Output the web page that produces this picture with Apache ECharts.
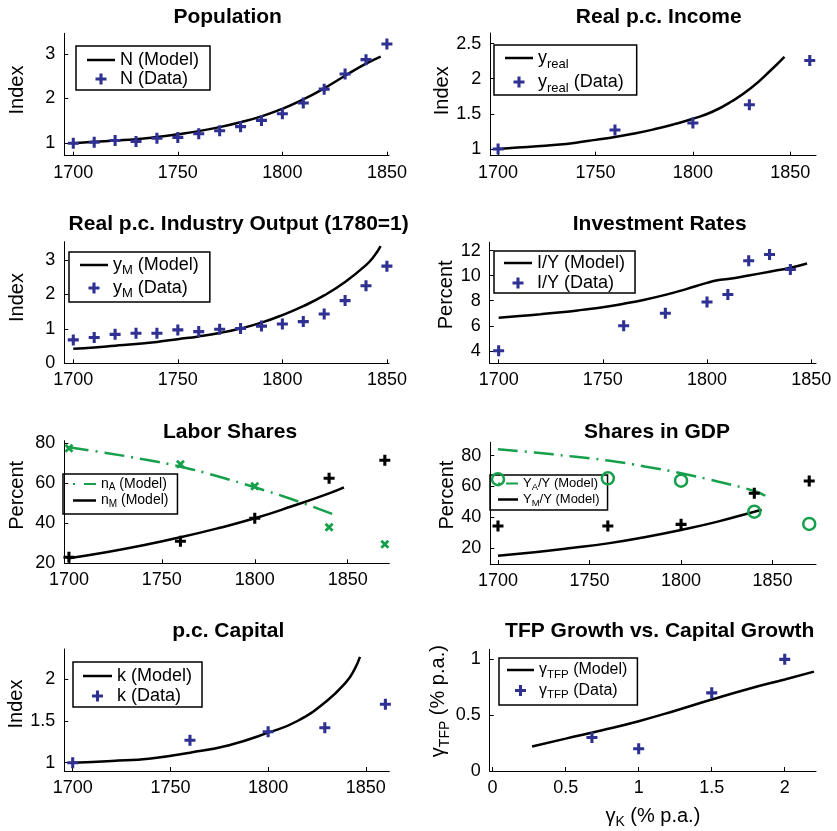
<!DOCTYPE html>
<html>
<head>
<meta charset="utf-8">
<title>Model vs data</title>
<script src="https://cdn.jsdelivr.net/npm/echarts@6/dist/echarts.min.js"></script>
<style>
  html, body { margin: 0; padding: 0; background: #fff; }
  #chart { width: 837px; height: 831px; }
</style>
</head>
<body>
<div id="chart"></div>
<script>
// ---- data ----
const decadeYears = [1700, 1710, 1720, 1730, 1740, 1750, 1760, 1770, 1780, 1790, 1800, 1810, 1820, 1830, 1840, 1850]
const modelYears = [1700, 1710, 1720, 1730, 1740, 1750, 1760, 1770, 1780, 1790, 1800, 1810, 1820, 1830, 1840, 1847]

const popData = [1.00, 1.02, 1.06, 1.04, 1.11, 1.13, 1.21, 1.28, 1.37, 1.51, 1.66, 1.90, 2.21, 2.55, 2.87, 3.22]
const popModel = [1.00, 1.03, 1.06, 1.09, 1.14, 1.20, 1.27, 1.36, 1.47, 1.60, 1.77, 1.98, 2.23, 2.51, 2.78, 2.94]

const benchYears = [1700, 1760, 1800, 1829, 1860]
const incData = [1.00, 1.27, 1.37, 1.63, 2.26]
const incModel = [1.00, 1.02, 1.04, 1.06, 1.09, 1.13, 1.17, 1.22, 1.28, 1.35, 1.43, 1.53, 1.68, 1.87, 2.12, 2.31]

const indModelYears = [1700, 1710, 1720, 1730, 1740, 1750, 1760, 1770, 1780, 1790, 1800, 1810, 1820, 1830, 1840, 1844, 1847]
const indData = [0.68, 0.75, 0.84, 0.87, 0.87, 0.97, 0.92, 0.99, 1.01, 1.08, 1.14, 1.21, 1.43, 1.82, 2.25, 2.82]
const indModel = [0.42, 0.46, 0.51, 0.56, 0.62, 0.70, 0.78, 0.88, 1.01, 1.18, 1.40, 1.66, 1.97, 2.36, 2.85, 3.12, 3.40]

const invYears = [1700, 1760, 1780, 1800, 1810, 1820, 1830, 1840]
const invData = [4.0, 6.0, 7.0, 7.9, 8.5, 11.2, 11.7, 10.5]
const invModelYears = [1700, 1710, 1720, 1730, 1740, 1750, 1760, 1770, 1780, 1790, 1800, 1805, 1810, 1820, 1830, 1840, 1848]
const invModel = [6.64, 6.78, 6.92, 7.08, 7.27, 7.48, 7.76, 8.08, 8.47, 8.93, 9.43, 9.64, 9.74, 10.02, 10.32, 10.64, 10.98]

const shareYears = [1700, 1760, 1800, 1840, 1870]
const nAData = [77.5, 69.5, 58.5, 38.0, 29.5]
const nMData = [23.0, 31.0, 42.5, 62.5, 71.5]
const nAModelYears = [1700, 1720, 1740, 1760, 1780, 1800, 1820, 1843]
const nAModel = [78.0, 75.2, 72.0, 68.3, 63.5, 58.0, 52.0, 44.2]
const nMModelYears = [1700, 1720, 1740, 1760, 1780, 1800, 1820, 1840, 1848]
const nMModel = [22.5, 25.5, 29.0, 33.0, 37.5, 42.5, 48.5, 55.0, 58.0]

const yAData = [64.7, 65.3, 63.8, 43.7, 35.8]
const yMData = [34.5, 34.5, 35.5, 55.6, 63.6]
const yAModelYears = [1700, 1720, 1740, 1760, 1780, 1800, 1820, 1840, 1846]
const yAModel = [84.1, 82.0, 79.5, 76.8, 73.0, 68.6, 63.2, 57.1, 54.0]
const yMModelYears = [1700, 1720, 1740, 1760, 1780, 1800, 1820, 1840, 1844]
const yMModel = [15.2, 17.5, 20.2, 23.2, 27.2, 31.9, 37.3, 43.7, 45.0]

const capData = [1.00, 1.27, 1.37, 1.42, 1.70]
const capModelYears = [1700, 1720, 1740, 1760, 1780, 1800, 1815, 1830, 1840, 1844, 1847]
const capModel = [1.00, 1.02, 1.05, 1.12, 1.21, 1.36, 1.50, 1.74, 1.97, 2.11, 2.27]

const tfpDataK = [0.68, 1.0, 1.5, 2.0]
const tfpData = [0.30, 0.20, 0.70, 1.00]
const tfpModelK = [0.27, 0.5, 0.75, 1.0, 1.25, 1.5, 1.75, 2.0, 2.2]
const tfpModel = [0.22, 0.29, 0.365, 0.446, 0.54, 0.64, 0.735, 0.82, 0.89]

const titles = ['Population', 'Real p.c. Income', 'Real p.c. Industry Output (1780=1)', 'Investment Rates',
  'Labor Shares', 'Shares in GDP', 'p.c. Capital', 'TFP Growth vs. Capital Growth']
const yearTicks = [1700, 1750, 1800, 1850]

// ---- style ----
const FONT = 'Liberation Sans, Arial, Helvetica, sans-serif'
const BLUE = '#2e3192'
const GREEN = '#17a04c'
const PLUS = 'path://M3.6,0H6.4V3.6H10V6.4H6.4V10H3.6V6.4H0V3.6H3.6Z'

const pairs = (xs, ys) => xs.map((x, i) => [x, ys[i]])

// grid boxes and axis ranges, per panel (shift = how far the y name sits above the middle)
const panels = [
  { box: [64.3, 33.3, 324.7, 122.4], x: [1695.7, 1851], y: [0.72, 3.46], yt: [1, 2, 3], yName: 'Index', gap: 37, shift: 4.5, tx: 227.7, ty: 7 },
  { box: [490.3, 33, 325.7, 122.7], x: [1696, 1863.2], y: [0.905, 2.65], yt: [1, 1.5, 2, 2.5], yName: 'Index', gap: 36, shift: 3.6, tx: 658.7, ty: 7 },
  { box: [64.3, 241.7, 324.7, 121.6], x: [1695.7, 1851], y: [0, 3.53], yt: [0, 1, 2, 3], yName: 'Index', gap: 37, shift: 5, tx: 238.7, ty: 214 },
  { box: [489.7, 242.3, 326.3, 121], x: [1695.7, 1852.3], y: [3.0, 12.67], yt: [4, 6, 8, 10, 12], yName: 'Percent', gap: 30, shift: 8, tx: 659.7, ty: 214 },
  { box: [64.3, 440.7, 325, 122.6], x: [1697.5, 1872.4], y: [20, 81.3], yt: [20, 40, 60, 80], yName: 'Percent', gap: 37, shift: 6.7, tx: 230, ty: 422 },
  { box: [490.3, 442.3, 325.7, 121.7], x: [1695.8, 1873.7], y: [9.86, 88.6], yt: [20, 40, 60, 80], yName: 'Percent', gap: 32, shift: 8, tx: 657, ty: 422 },
  { box: [64.3, 649, 325, 122], x: [1695.7, 1862], y: [0.9, 2.364], yt: [1, 1.5, 2], yName: 'Index', gap: 36, shift: 6, tx: 228.3, ty: 621 },
  { box: [489.7, 649.3, 326.3, 121.7], x: [-0.02, 2.214], y: [0, 1.09], yt: [0, 0.5, 1], xt: [0, 0.5, 1, 1.5, 2],
    yName: '{b|γ}{s|TFP}{b| (% p.a.)}', gap: 36, shift: 9, xName: '{b|γ}{s|K}{b| (% p.a.)}', tx: 659.7, ty: 621 }
]

function baseAxis(gi, range, ticks, margin) {
  return {
    type: 'value', gridIndex: gi, min: range[0], max: range[1],
    axisLine: { show: true, onZero: false, lineStyle: { color: '#000', width: 1 } },
    axisTick: { show: true, inside: true, length: 4, customValues: ticks, lineStyle: { color: '#000', width: 1 } },
    axisLabel: { customValues: ticks, margin: margin, color: '#000', fontSize: 18, fontFamily: FONT, formatter: v => String(v) },
    splitLine: { show: false }
  }
}

const nameRich = {
  b: { fontSize: 20, fontFamily: FONT, color: '#000', lineHeight: 26 },
  s: { fontSize: 14, fontFamily: FONT, color: '#000', lineHeight: 14, verticalAlign: 'bottom' }
}

const xAxes = panels.map((p, i) => {
  const ax = baseAxis(i, p.x, p.xt || yearTicks, 8)
  if (p.xName) {
    ax.name = p.xName
    ax.nameLocation = 'middle'
    ax.nameGap = 32
    ax.nameTextStyle = { rich: nameRich }
  }
  return ax
})
const yAxes = panels.map((p, i) => {
  const ax = baseAxis(i, p.y, p.yt, 9)
  ax.name = p.yName
  ax.nameLocation = 'middle'
  ax.nameGap = p.gap
  const pad = [0, 0, 0, 2 * p.shift]
  ax.nameTextStyle = p.yName.startsWith('{')
    ? { rich: nameRich, padding: pad }
    : { fontSize: 20, fontFamily: FONT, color: '#000', padding: pad }
  return ax
})

function model(name, gi, xs, ys, color, dash) {
  return {
    name, type: 'line', xAxisIndex: gi, yAxisIndex: gi, data: pairs(xs, ys),
    symbol: 'none', smooth: 0.5, silent: true, z: 3,
    lineStyle: { color, width: 2.5, type: dash || 'solid' }, itemStyle: { color }
  }
}
function marks(name, gi, xs, ys, color, opts) {
  opts = opts || {}
  return {
    name, type: 'scatter', xAxisIndex: gi, yAxisIndex: gi, data: pairs(xs, ys),
    symbol: opts.symbol || PLUS, symbolSize: opts.size || 11, symbolRotate: opts.rotate || 0,
    silent: true, z: 4,
    itemStyle: opts.ring
      ? { color: 'rgba(0,0,0,0)', borderColor: color, borderWidth: 2.5, opacity: 1 }
      : { color, opacity: 1 }
  }
}

const DASHDOT = [20, 7, 2, 7]

const series = [
  model('N (Model)', 0, modelYears, popModel, '#000'),
  marks('N (Data)', 0, decadeYears, popData, BLUE),
  model('y_real', 1, modelYears, incModel, '#000'),
  marks('y_real (Data)', 1, benchYears, incData, BLUE),
  model('y_M (Model)', 2, indModelYears, indModel, '#000'),
  marks('y_M (Data)', 2, decadeYears, indData, BLUE),
  model('I/Y (Model)', 3, invModelYears, invModel, '#000'),
  marks('I/Y (Data)', 3, invYears, invData, BLUE),
  model('n_A (Model)', 4, nAModelYears, nAModel, GREEN, DASHDOT),
  model('n_M (Model)', 4, nMModelYears, nMModel, '#000'),
  marks('n_A data', 4, shareYears, nAData, GREEN, { rotate: 45, size: 10 }),
  marks('n_M data', 4, shareYears, nMData, '#000'),
  model('Y_A/Y (Model)', 5, yAModelYears, yAModel, GREEN, DASHDOT),
  model('Y_M/Y (Model)', 5, yMModelYears, yMModel, '#000'),
  marks('Y_A data', 5, shareYears, yAData, GREEN, { symbol: 'circle', size: 12, ring: true }),
  marks('Y_M data', 5, shareYears, yMData, '#000'),
  model('k (Model)', 6, capModelYears, capModel, '#000'),
  marks('k (Data)', 6, benchYears, capData, BLUE),
  model('g_TFP (Model)', 7, tfpModelK, tfpModel, '#000'),
  marks('g_TFP (Data)', 7, tfpDataK, tfpData, BLUE)
]

const legendText = {
  'y_real': '{b|y}{s|real}',
  'y_real (Data)': '{b|y}{s|real}{b| (Data)}',
  'y_M (Model)': '{b|y}{s|M}{b| (Model)}',
  'y_M (Data)': '{b|y}{s|M}{b| (Data)}',
  'n_A (Model)': '{b|n}{s|A}{b| (Model)}',
  'n_M (Model)': '{b|n}{s|M}{b| (Model)}',
  'Y_A/Y (Model)': '{b|Y}{s|A}{b|/Y (Model)}',
  'Y_M/Y (Model)': '{b|Y}{s|M}{b|/Y (Model)}',
  'g_TFP (Model)': '{b|γ}{s|TFP}{b| (Model)}',
  'g_TFP (Data)': '{b|γ}{s|TFP}{b| (Data)}'
}

// legend keys for model lines: a plain bar, or dot + dash for the green dash-dot lines
const solidKey = w => `path://M0,0H${w}V2.5H0Z`
const dashDotKey = w => `path://M0,0H2V2.2H0Z M${w - 12},0H${w}V2.2H${w - 12}Z`

function legend(items, left, top, o) {
  const fs = o.fs || 18
  const sub = o.sub || Math.round(fs * 0.72)
  const lh = o.lh || fs
  const iw = o.iw || 28
  const data = items.map(([name, key]) =>
    key === 'solid' ? { name, icon: solidKey(iw) } : key === 'dashdot' ? { name, icon: dashDotKey(iw) } : name)
  return {
    data, left, top, orient: 'vertical', selectedMode: false,
    itemWidth: iw, itemHeight: 11, itemGap: o.gap == null ? 1 : o.gap,
    padding: o.pad, borderColor: '#000', borderWidth: 1.5,
    itemStyle: { borderWidth: 0 },
    formatter: n => legendText[n] || n,
    textStyle: {
      fontSize: fs, fontFamily: FONT, color: '#000',
      rich: {
        b: { fontSize: fs, fontFamily: FONT, color: '#000', lineHeight: lh },
        s: { fontSize: sub, fontFamily: FONT, color: '#000', lineHeight: sub, verticalAlign: 'bottom' }
      }
    }
  }
}

const option = {
  animation: false,
  backgroundColor: '#fff',
  title: panels.map((p, i) => ({
    text: titles[i], left: p.tx, top: p.ty, textAlign: 'center', padding: 0,
    textStyle: { fontSize: 21, fontWeight: 'bold', fontFamily: FONT, color: '#000' }
  })),
  grid: panels.map(p => ({ left: p.box[0], top: p.box[1], width: p.box[2], height: p.box[3], containLabel: false })),
  xAxis: xAxes,
  yAxis: yAxes,
  legend: [
    legend([['N (Model)', 'solid'], ['N (Data)']], 76, 46, { pad: [5, 11, 2, 11] }),
    legend([['y_real', 'solid'], ['y_real (Data)']], 494, 45, { fs: 18, sub: 13, lh: 26, gap: 2, pad: [4, 13, 0, 11] }),
    legend([['y_M (Model)', 'solid'], ['y_M (Data)']], 69, 252, { fs: 18, sub: 13, lh: 24, gap: 2, pad: [4, 11, 2, 11] }),
    legend([['I/Y (Model)', 'solid'], ['I/Y (Data)']], 494, 251, { gap: 2, pad: [3, 10, 1, 10] }),
    legend([['n_A (Model)', 'dashdot'], ['n_M (Model)', 'solid']], 63, 474, { fs: 14, sub: 10, lh: 17, gap: 1, iw: 23, pad: [3, 9, 5, 10] }),
    legend([['Y_A/Y (Model)', 'dashdot'], ['Y_M/Y (Model)', 'solid']], 490, 475, { fs: 13, sub: 9.5, lh: 17, gap: 1, iw: 20, pad: [2, 8, 2, 8] }),
    legend([['k (Model)', 'solid'], ['k (Data)']], 73, 662, { gap: 2, iw: 29, pad: [5, 10, 2, 10] }),
    legend([['g_TFP (Model)', 'solid'], ['g_TFP (Data)']], 499, 658, { fs: 16, sub: 11.5, lh: 21, gap: 2, iw: 27, pad: [4, 10, 4, 8] })
  ],
  series
}

const chart = echarts.init(document.getElementById('chart'), null, { renderer: 'canvas' })
chart.setOption(option)
</script>
</body>
</html>
